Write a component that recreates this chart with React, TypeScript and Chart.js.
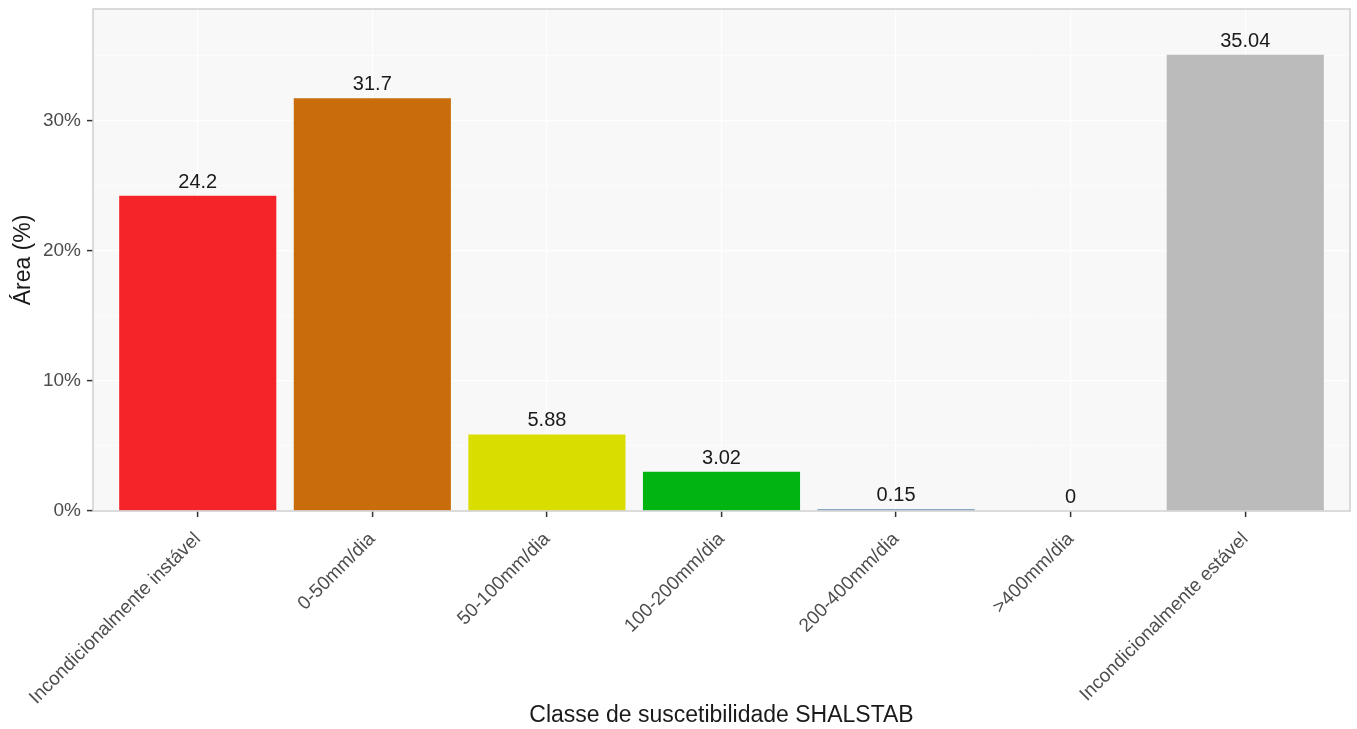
import React, { useEffect, useRef } from "react";
import { Chart, registerables } from "chart.js";

Chart.register(...registerables);

const categories = [
  "Incondicionalmente instável",
  "0-50mm/dia",
  "50-100mm/dia",
  "100-200mm/dia",
  "200-400mm/dia",
  ">400mm/dia",
  "Incondicionalmente estável",
];
const values = [24.2, 31.7, 5.88, 3.02, 0.15, 0, 35.04];
const valueLabels = ["24.2", "31.7", "5.88", "3.02", "0.15", "0", "35.04"];
const barColors = ["#F42428", "#C86C0C", "#DADE00", "#02B411", "#86A6C8", "#3A6FB0", "#BBBBBB"];
const yMajorTicks = [0, 10, 20, 30];
const yMinorTicks = [5, 15, 25, 35];

const FONT = "'Liberation Sans', Arial, sans-serif";

const panelPlugin = {
  id: "panel",
  beforeDraw(chart: any) {
    const { ctx, chartArea: a } = chart;
    ctx.save();
    ctx.fillStyle = "#FFFFFF";
    ctx.fillRect(0, 0, chart.width, chart.height);
    ctx.fillStyle = "#F8F8F8";
    ctx.fillRect(a.left, a.top, a.right - a.left, a.bottom - a.top);
    ctx.restore();
  },
  afterDatasetsDraw(chart: any) {
    const { ctx, chartArea: a } = chart;
    const meta = chart.getDatasetMeta(0);
    ctx.save();
    ctx.font = `20px ${FONT}`;
    ctx.fillStyle = "#1A1A1A";
    ctx.textAlign = "center";
    ctx.textBaseline = "alphabetic";
    meta.data.forEach((bar: any, i: number) => {
      ctx.fillText(valueLabels[i], bar.x, bar.y - 8);
    });
    ctx.strokeStyle = "#CFCFCF";
    ctx.lineWidth = 1.5;
    ctx.strokeRect(a.left, a.top, a.right - a.left, a.bottom - a.top);
    ctx.restore();
  },
};

export default function App() {
  const ref = useRef<HTMLCanvasElement | null>(null);
  useEffect(() => {
    if (!ref.current) return;
    const chart = new Chart(ref.current, {
      type: "bar",
      data: {
        datasets: [
          {
            data: values.map((v, i) => ({ x: i, y: v })) as any,
            backgroundColor: barColors,
            barPercentage: 0.9,
            categoryPercentage: 1,
            borderWidth: 0,
          },
        ],
      },
      plugins: [panelPlugin],
      options: {
        animation: false,
        responsive: true,
        maintainAspectRatio: false,
        layout: { padding: { left: 0, right: 7, top: 9, bottom: 0 } },
        plugins: { legend: { display: false }, tooltip: { enabled: false } },
        scales: {
          x: {
            type: "linear",
            min: -0.6,
            max: 6.6,
            offset: false,
            afterBuildTicks: (axis: any) => {
              axis.ticks = categories.map((_, i) => ({ value: i }));
            },
            afterFit: (axis: any) => {
              axis.height = 218;
              axis.paddingLeft = 0;
              axis.paddingRight = 0;
            },
            grid: {
              offset: false,
              color: "#FFFFFF",
              lineWidth: 1.2,
              drawTicks: true,
              tickLength: 6,
              tickColor: "#333333",
              tickWidth: 1.5,
            },
            border: { display: false },
            ticks: {
              autoSkip: false,
              minRotation: 45,
              maxRotation: 45,
              padding: 11,
              color: "#4D4D4D",
              font: { family: FONT, size: 19 },
              callback: (v: any) => categories[v as number] ?? "",
            },
            title: {
              display: true,
              text: "Classe de suscetibilidade SHALSTAB",
              color: "#1A1A1A",
              font: { family: FONT, size: 23 },
              padding: { top: 0, bottom: 0 },
            },
          },
          y: {
            min: 0,
            max: 38.544,
            afterBuildTicks: (axis: any) => {
              axis.ticks = [...yMajorTicks, ...yMinorTicks]
                .sort((a, b) => a - b)
                .map((v) => ({ value: v }));
            },
            afterFit: (axis: any) => {
              axis.width = 93;
              axis.paddingTop = 0;
              axis.paddingBottom = 0;
            },
            grid: {
              color: "#FFFFFF",
              lineWidth: (c: any) => (yMajorTicks.includes(c.tick?.value) ? 1.2 : 0.6),
              drawTicks: true,
              tickLength: 6,
              tickColor: (c: any) =>
                yMajorTicks.includes(c.tick?.value) ? "#333333" : "rgba(0,0,0,0)",
              tickWidth: 1.5,
            },
            border: { display: false },
            ticks: {
              padding: 6,
              color: "#4D4D4D",
              font: { family: FONT, size: 19 },
              callback: (v: any) => (yMajorTicks.includes(v as number) ? `${v}%` : ""),
            },
            title: {
              display: true,
              text: "Área (%)",
              color: "#1A1A1A",
              font: { family: FONT, size: 23 },
              padding: { top: 10, bottom: 0 },
            },
          },
        },
      },
    });
    return () => chart.destroy();
  }, []);

  return (
    <div style={{ position: "fixed", left: 0, top: 0, width: 1357, height: 729, background: "#FFFFFF" }}>
      <canvas ref={ref} />
    </div>
  );
}
